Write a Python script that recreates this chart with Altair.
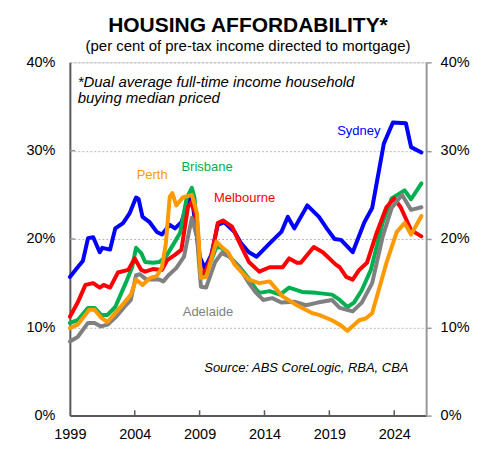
import altair as alt
import pandas as pd

FONT = "Liberation Sans"

# ---- data (year, per cent) ----
syd_x = [1999.0, 1999.6, 2000.0, 2000.4, 2000.8, 2001.3, 2001.5, 2002.1, 2002.5, 2003.1, 2003.6, 2004.1, 2004.3,
         2004.6, 2005.15, 2005.7, 2006.1, 2006.7, 2007.1, 2007.6, 2008.2, 2008.5, 2009.0, 2009.4, 2009.9, 2010.4,
         2010.9, 2011.7, 2012.2, 2012.8, 2013.4, 2014.4, 2015.3, 2015.8, 2016.3, 2017.3, 2018.2, 2018.8, 2019.4,
         2019.9, 2020.8, 2021.7, 2022.3, 2023.2, 2023.9, 2024.9, 2025.3, 2026.1]
syd_y = [15.7, 16.8, 17.5, 20.1, 20.2, 18.5, 19.0, 18.8, 21.2, 21.8, 22.9, 24.7, 24.5,
         22.5, 21.9, 20.8, 20.5, 21.6, 21.2, 21.9, 24.6, 23.6, 18.0, 16.7, 18.2, 21.6,
         21.9, 20.8, 19.5, 18.5, 18.0, 19.5, 20.8, 22.5, 21.2, 23.8, 22.5, 21.2, 20.0,
         19.9, 18.5, 21.9, 23.5, 30.8, 33.2, 33.1, 30.4, 29.8]

mel_x = [1999.0, 1999.6, 2000.2, 2000.8, 2001.3, 2001.6, 2002.1, 2002.7, 2003.5, 2004.0, 2004.5, 2004.8, 2005.4,
         2006.1, 2006.5, 2007.1, 2007.6, 2008.1, 2008.4, 2008.8, 2009.1, 2009.5, 2009.9, 2010.4, 2010.8, 2011.5,
         2012.1, 2012.8, 2013.6, 2014.4, 2015.4, 2015.9, 2016.5, 2016.8, 2017.8, 2018.5, 2019.5, 2019.8, 2020.3,
         2020.8, 2021.3, 2021.9, 2022.6, 2023.4, 2024.0, 2024.5, 2025.3, 2026.1]
mel_y = [11.2, 12.8, 14.8, 15.0, 14.5, 14.8, 14.5, 16.2, 16.5, 17.8, 16.5, 16.3, 16.6,
         16.5, 17.6, 18.2, 18.8, 23.6, 24.2, 22.1, 15.9, 16.5, 18.0, 21.8, 22.1, 21.4,
         19.5, 17.4, 16.3, 16.8, 16.8, 17.8, 17.3, 17.3, 19.1, 18.5, 17.1, 16.8, 15.7,
         15.4, 16.5, 17.3, 20.5, 23.6, 24.6, 23.6, 21.0, 20.3]

bne_x = [1999.0, 1999.6, 2000.4, 2000.9, 2001.4, 2001.9, 2002.5, 2003.3, 2003.8, 2004.1, 2004.5, 2004.8, 2005.4,
         2005.9, 2006.4, 2007.1, 2007.5, 2008.0, 2008.4, 2008.6, 2009.1, 2009.6, 2010.3, 2010.7, 2011.3, 2012.1,
         2012.8, 2013.3, 2013.6, 2014.4, 2015.2, 2015.9, 2016.9, 2018.0, 2019.2, 2019.8, 2020.4, 2020.9, 2021.5,
         2022.2, 2023.1, 2023.8, 2024.8, 2025.3, 2026.1]
bne_y = [10.5, 10.8, 12.2, 12.2, 11.4, 11.4, 12.3, 15.0, 16.8, 19.0, 18.4, 17.4, 17.3,
         17.4, 18.0, 19.7, 20.7, 24.6, 25.8, 24.7, 15.7, 16.5, 19.1, 19.0, 18.0, 16.8,
         15.5, 14.4, 13.9, 14.1, 13.7, 14.5, 14.0, 13.9, 13.7, 13.1, 12.3, 12.8, 14.2,
         16.5, 21.8, 24.6, 25.5, 24.5, 26.3]

per_x = [1999.0, 1999.6, 2000.5, 2000.9, 2001.4, 2001.9, 2002.5, 2003.2, 2003.7, 2004.1, 2004.6, 2005.2, 2005.7,
         2006.1, 2006.4, 2006.7, 2006.9, 2007.2, 2007.7, 2008.4, 2008.8, 2009.1, 2009.5, 2010.3, 2010.7, 2011.2,
         2011.7, 2012.2, 2012.8, 2013.6, 2014.4, 2015.4, 2016.5, 2017.7, 2018.2, 2019.2, 2019.8, 2020.4, 2021.3,
         2021.8, 2022.3, 2023.4, 2024.2, 2024.8, 2025.3, 2026.1]
per_y = [9.9, 10.3, 12.0, 12.0, 11.1, 10.6, 11.6, 12.8, 13.7, 15.4, 14.8, 15.6, 15.8,
         16.8, 19.5, 24.8, 25.2, 23.8, 24.7, 25.0, 22.9, 15.6, 15.7, 19.7, 19.1, 18.5,
         17.1, 16.3, 15.4, 15.0, 15.2, 13.5, 12.5, 11.6, 11.4, 10.8, 10.3, 9.6, 10.8,
         11.0, 11.6, 17.3, 20.8, 21.8, 20.5, 22.6]

adl_x = [1999.0, 1999.6, 2000.4, 2000.9, 2001.4, 2001.9, 2002.5, 2003.2, 2003.7, 2004.1, 2004.4, 2004.9, 2005.9,
         2006.2, 2006.6, 2007.2, 2007.8, 2008.4, 2008.8, 2009.1, 2009.5, 2010.2, 2010.7, 2011.3, 2012.1, 2012.8,
         2013.3, 2013.9, 2014.6, 2015.3, 2016.3, 2017.2, 2018.1, 2019.2, 2019.8, 2020.8, 2021.5, 2022.3, 2023.1,
         2023.8, 2024.6, 2025.3, 2026.1]
adl_y = [8.4, 8.9, 10.5, 10.5, 10.1, 10.3, 11.1, 12.3, 13.1, 15.9, 16.0, 15.4, 15.4,
         15.2, 15.9, 16.7, 18.0, 22.4, 20.2, 14.6, 14.5, 17.4, 18.4, 18.0, 16.7, 15.0,
         14.0, 13.1, 13.3, 12.8, 12.9, 12.5, 12.8, 13.1, 12.2, 11.8, 12.8, 15.0, 20.2,
         23.5, 25.0, 23.3, 23.6]

# series in drawing order (bottom first)
series = [
    ("Sydney", syd_x, syd_y, "#0000FF"),
    ("Brisbane", bne_x, bne_y, "#00B050"),
    ("Melbourne", mel_x, mel_y, "#FF0000"),
    ("Adelaide", adl_x, adl_y, "#808080"),
    ("Perth", per_x, per_y, "#FF9900"),
]

# city labels: text, year, pct, colour
lab_text = ["Sydney", "Perth", "Brisbane", "Melbourne", "Adelaide"]
lab_x = [2019.6, 2004.15, 2007.6, 2010.1, 2007.7]
lab_y = [31.75, 26.8, 27.7, 24.2, 11.3]
lab_col = ["#0000FF", "#FF9900", "#00B050", "#FF0000", "#808080"]

note_text = ["*Dual average full-time income household", "buying median priced"]
note_x = [1999.6, 1999.6]
note_y = [37.2, 35.4]

src_text = ["Source: ABS CoreLogic, RBA, CBA"]
src_x = [2025.1]
src_y = [4.97]

year_ticks = [1999, 2004, 2009, 2014, 2019, 2024]
pct_ticks = [0, 10, 20, 30, 40]

# ---- scales and axes ----
x_scale = alt.Scale(domain=[1999, 2026.46], nice=False, zero=False)
y_scale = alt.Scale(domain=[0, 40], nice=False, zero=True)

x_axis = alt.Axis(values=year_ticks, format="d", title=None, grid=False, ticks=False,
                  domainColor="#595959", domainWidth=2, labelPadding=12,
                  labelFont=FONT, labelFontSize=14.5, labelColor="#000000", labelFlush=False)
y_left = alt.Axis(values=pct_ticks, title=None, grid=True, gridColor="#b8b8b8", gridDash=[2, 2],
                  gridWidth=1, ticks=False, domainColor="#595959", domainWidth=2, labelPadding=15,
                  labelExpr="datum.value + '%'", labelFont=FONT, labelFontSize=14.5, labelColor="#000000")
y_right = alt.Axis(values=pct_ticks, title=None, grid=False, orient="right", ticks=True, tickSize=5,
                   tickColor="#999999", tickWidth=1.5, domainColor="#999999", domainWidth=2,
                   labelPadding=9, labelExpr="datum.value + '%'", labelFont=FONT, labelFontSize=14.5,
                   labelColor="#000000")

X = lambda f: alt.X(f, type="quantitative", scale=x_scale, axis=x_axis)
Y = lambda f: alt.Y(f, type="quantitative", scale=y_scale, axis=y_left)

layers = []

# inner tick marks on the bottom axis
xt = pd.DataFrame({"year": year_ticks[1:]})
layers.append(alt.Chart(xt).mark_rule(color="#595959", strokeWidth=1.5).encode(
    x=X("year"), y=alt.Y(datum=0, scale=y_scale, axis=y_left), y2=alt.Y2(datum=0.6)))
# inner tick marks on the left axis
yt = pd.DataFrame({"pct": pct_ticks[1:4]})
layers.append(alt.Chart(yt).mark_rule(color="#999999", strokeWidth=1.5).encode(
    y=Y("pct"), x=alt.X(datum=1999, scale=x_scale, axis=x_axis), x2=alt.X2(datum=1999.4)))

for name, xs, ys, col in series:
    df = pd.DataFrame({"year": xs, "pct": ys})
    layers.append(alt.Chart(df).mark_line(color=col, strokeWidth=4, strokeJoin="round",
                                          strokeCap="round").encode(x=X("year"), y=Y("pct")))

labels = pd.DataFrame({"t": lab_text, "year": lab_x, "pct": lab_y, "c": lab_col})
layers.append(alt.Chart(labels).mark_text(align="left", baseline="alphabetic", font=FONT,
                                          fontSize=13).encode(
    x=X("year"), y=Y("pct"), text="t:N", color=alt.Color("c:N", scale=None)))

notes = pd.DataFrame({"t": note_text, "year": note_x, "pct": note_y})
layers.append(alt.Chart(notes).mark_text(align="left", baseline="alphabetic", font=FONT,
                                         fontSize=15, fontStyle="italic", color="#000000").encode(
    x=X("year"), y=Y("pct"), text="t:N"))

src = pd.DataFrame({"t": src_text, "year": src_x, "pct": src_y})
layers.append(alt.Chart(src).mark_text(align="right", baseline="alphabetic", font=FONT,
                                       fontSize=13, fontStyle="italic", color="#000000").encode(
    x=X("year"), y=Y("pct"), text="t:N"))

inner = alt.layer(*layers)

right = alt.Chart(pd.DataFrame({"pct": pct_ticks})).mark_point(opacity=0).encode(
    y=alt.Y("pct:Q", scale=y_scale, axis=y_right), x=alt.value(0))

chart = alt.layer(inner, right).resolve_scale(y="independent").properties(
    width=357, height=354,
    autosize=alt.AutoSizeParams(type="none"),
    padding={"left": 62, "top": 54, "right": 60, "bottom": 45},
    title=alt.TitleParams(
        text="HOUSING AFFORDABILITY*",
        subtitle="(per cent of pre-tax income directed to mortgage)",
        anchor="middle", font=FONT, fontSize=21, fontWeight="bold", color="#000000",
        subtitleFont=FONT, subtitleFontSize=15, subtitleColor="#000000",
        offset=0, subtitlePadding=3),
).configure_view(stroke="#a6a6a6", strokeWidth=1).configure(background="white")

chart.save("out.html", embed_options={"renderer": "svg", "actions": False})
